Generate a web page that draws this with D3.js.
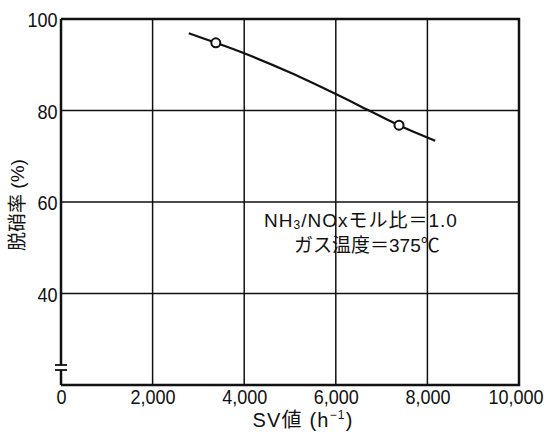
<!DOCTYPE html>
<html>
<head>
<meta charset="utf-8">
<script src="https://cdn.jsdelivr.net/npm/d3@7"></script>
<style>
  body { margin: 0; background: #fff; }
  text { font-family: "Liberation Sans", Arial, "Noto Sans CJK JP", sans-serif; fill: #111; }
</style>
</head>
<body>
<div id="chart"></div>
<script>
// data
var xTicks = [0, 2000, 4000, 6000, 8000, 10000];
var yTicks = [40, 60, 80, 100];
var curveSV = [2790, 3350, 4000, 5000, 6000, 6725, 7350, 8170];
var curveRatio = [96.9, 94.9, 92.5, 88.3, 83.6, 80, 76.9, 73.4];
var pointSV = [3380, 7380];
var pointRatio = [94.8, 76.8];

var svgWidth = 544, svgHeight = 433;
var margin = { top: 19, right: 25, bottom: 48, left: 61 };
var width = svgWidth - margin.left - margin.right;
var height = svgHeight - margin.top - margin.bottom;

var svg = d3.select("#chart").append("svg")
  .attr("width", svgWidth)
  .attr("height", svgHeight);

var g = svg.append("g")
  .attr("transform", `translate(${margin.left}, ${margin.top})`);

var x = d3.scaleLinear().domain([0, 10000]).range([0, width]);
var y = d3.scaleLinear().domain([20, 100]).range([height, 0]);

// grid
g.selectAll(".vgrid").data(xTicks.slice(1, -1)).enter().append("line")
  .attr("x1", d => x(d)).attr("x2", d => x(d))
  .attr("y1", 0).attr("y2", height)
  .attr("stroke", "#111").attr("stroke-width", 1.5);
g.selectAll(".hgrid").data(yTicks.slice(0, -1)).enter().append("line")
  .attr("x1", 0).attr("x2", width)
  .attr("y1", d => y(d)).attr("y2", d => y(d))
  .attr("stroke", "#111").attr("stroke-width", 1.5);

// frame: top, right, bottom
g.append("path")
  .attr("d", `M0,0H${width}V${height}H0`)
  .attr("fill", "none").attr("stroke", "#111").attr("stroke-width", 2.5);

// left axis with break
var breakTop = height - 20, breakBot = height - 15;
g.append("line").attr("x1", 0).attr("x2", 0).attr("y1", 0).attr("y2", breakTop)
  .attr("stroke", "#111").attr("stroke-width", 2.5);
g.append("line").attr("x1", 0).attr("x2", 0).attr("y1", breakBot).attr("y2", height)
  .attr("stroke", "#111").attr("stroke-width", 2.5);
[breakTop, breakBot].forEach(function(v) {
  g.append("line").attr("x1", -6).attr("x2", 6).attr("y1", v).attr("y2", v)
    .attr("stroke", "#111").attr("stroke-width", 1.8);
});

// tick labels via d3 axes (domain hidden)
var leftAxis = d3.axisLeft(y).tickValues(yTicks).tickSize(0).tickPadding(4);
var la = g.append("g").call(leftAxis);
la.select(".domain").remove();
la.selectAll("text").attr("font-size", 21).attr("font-family", "Liberation Sans, Arial, sans-serif")
  .attr("fill", "#111").attr("dy", "0.36em").attr("transform", "scale(0.86,1)");

var bottomAxis = d3.axisBottom(x).tickValues(xTicks).tickSize(0).tickPadding(5)
  .tickFormat(d3.format(","));
var ba = g.append("g").attr("transform", `translate(0, ${height})`).call(bottomAxis);
ba.select(".domain").remove();
ba.selectAll("text").attr("font-size", 20).attr("font-family", "Liberation Sans, Arial, sans-serif")
  .attr("fill", "#111").attr("transform", "scale(0.9,1)");
// keep the last label inside the window
ba.selectAll(".tick").filter(d => d === 10000).select("text")
  .attr("text-anchor", "end").attr("x", (543 - margin.left - x(10000)) / 0.9);

// curve
var line = d3.line()
  .x((d, i) => x(curveSV[i]))
  .y((d, i) => y(curveRatio[i]))
  .curve(d3.curveCatmullRom);
g.append("path").datum(curveSV).attr("d", line)
  .attr("fill", "none").attr("stroke", "#111").attr("stroke-width", 2.2);

g.selectAll(".pt").data(pointSV).enter().append("circle")
  .attr("cx", d => x(d))
  .attr("cy", (d, i) => y(pointRatio[i]))
  .attr("r", 4.5)
  .attr("fill", "#fff").attr("stroke", "#111").attr("stroke-width", 2);

// annotation
svg.append("text").attr("x", 264).attr("y", 227)
  .attr("font-size", 19).attr("letter-spacing", 1)
  .html('NH<tspan font-size="12" dy="2">3</tspan><tspan dy="-2">/NOxモル比＝1.0</tspan>');
svg.append("text").attr("x", 294).attr("y", 252)
  .attr("font-size", 19)
  .text("ガス温度＝375℃");

// axis titles
svg.append("text")
  .attr("x", 303).attr("y", 427)
  .attr("text-anchor", "middle").attr("font-size", 20).attr("letter-spacing", 1.2)
  .html('SV値 (h<tspan font-size="12" dy="-8">−1</tspan><tspan dy="8">)</tspan>');

svg.append("text")
  .attr("transform", "translate(24, 205) rotate(-90)")
  .attr("text-anchor", "middle").attr("font-size", 19)
  .text("脱硝率 (%)");
</script>
</body>
</html>
